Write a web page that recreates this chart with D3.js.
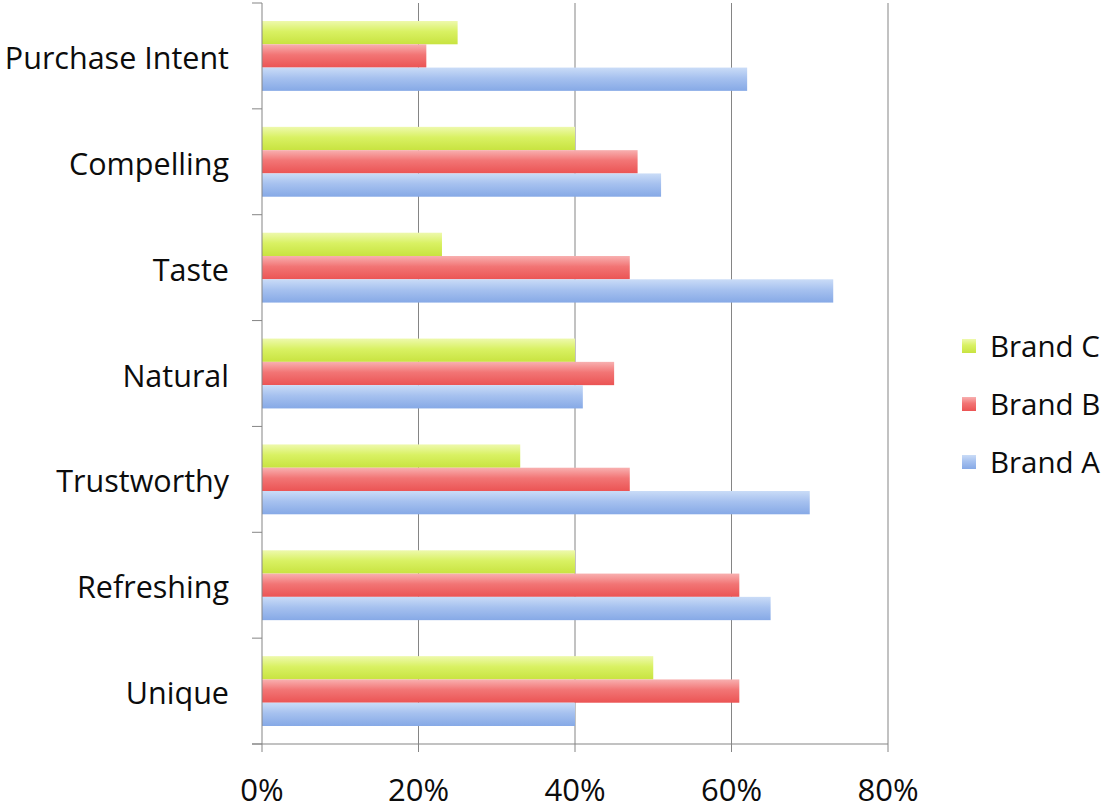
<!DOCTYPE html>
<html>
<head>
<meta charset="utf-8">
<script src="https://cdn.jsdelivr.net/npm/d3@7"></script>
<style>
  html, body { margin: 0; padding: 0; background: #fff; }
  svg { display: block; }
  text { font-family: "Open Sans", Lato, sans-serif; fill: #0c0c0c; }
</style>
</head>
<body>
<svg id="chart" width="1106" height="809"></svg>
<script>
// Attribute ratings per brand (share of respondents)
const categories = ["Purchase Intent", "Compelling", "Taste", "Natural", "Trustworthy", "Refreshing", "Unique"];
const seriesNames = ["Brand C", "Brand B", "Brand A"];
const brandC = [0.25, 0.40, 0.23, 0.40, 0.33, 0.40, 0.50];
const brandB = [0.21, 0.48, 0.47, 0.45, 0.47, 0.61, 0.61];
const brandA = [0.62, 0.51, 0.73, 0.41, 0.70, 0.65, 0.40];
const xTicks = [0, 0.2, 0.4, 0.6, 0.8];
const xTickLabels = ["0%", "20%", "40%", "60%", "80%"];

const seriesValues = { "Brand C": brandC, "Brand B": brandB, "Brand A": brandA };
const gradients = {
  "Brand C": ["#eef9ad", "#d9f163", "#c8e340"],
  "Brand B": ["#f8b0b0", "#f27575", "#eb5454"],
  "Brand A": ["#cadcf7", "#a6c1ef", "#86a9e6"]
};

const svg = d3.select("#chart");
const plotTop = 3, plotBottom = 744, plotLeft = 262, plotRight = 888;

const x = d3.scaleLinear().domain([0, 0.8]).range([plotLeft, plotRight]);
const y0 = d3.scaleBand().domain(categories).range([plotTop, plotBottom]).paddingInner(0.34).paddingOuter(0.17);
const y1 = d3.scaleBand().domain(seriesNames).range([0, y0.bandwidth()]);

// Bar fill gradients
const defs = svg.append("defs");
seriesNames.forEach((s, i) => {
  const g = defs.append("linearGradient").attr("id", "grad" + i)
    .attr("x1", 0).attr("y1", 0).attr("x2", 0).attr("y2", 1);
  const c = gradients[s];
  g.append("stop").attr("offset", "0%").attr("stop-color", c[0]);
  g.append("stop").attr("offset", "45%").attr("stop-color", c[1]);
  g.append("stop").attr("offset", "100%").attr("stop-color", c[2]);
});

// Vertical gridlines (with short ticks below the baseline)
svg.append("g").selectAll("line").data(xTicks.slice(1)).join("line")
  .attr("x1", d => x(d)).attr("x2", d => x(d))
  .attr("y1", plotTop).attr("y2", plotBottom + 8)
  .attr("stroke", "#858585").attr("stroke-width", 1);

// Bars
const groups = svg.append("g").selectAll("g").data(categories).join("g")
  .attr("transform", d => `translate(0,${y0(d)})`);
groups.selectAll("rect")
  .data((c, ci) => seriesNames.map((s, si) => ({ s, si, v: seriesValues[s][ci] })))
  .join("rect")
  .attr("x", x(0))
  .attr("y", d => y1(d.s))
  .attr("width", d => x(d.v) - x(0))
  .attr("height", y1.bandwidth())
  .attr("fill", d => `url(#grad${d.si})`);

// Category axis line and boundary ticks
svg.append("line").attr("x1", plotLeft).attr("x2", plotLeft).attr("y1", plotTop).attr("y2", plotBottom + 8)
  .attr("stroke", "#858585");
svg.append("line").attr("x1", plotLeft - 10).attr("x2", plotRight).attr("y1", plotBottom).attr("y2", plotBottom)
  .attr("stroke", "#858585");
const boundaries = d3.range(categories.length + 1).map(i => plotTop + i * y0.step());
svg.append("g").selectAll("line").data(boundaries).join("line")
  .attr("x1", plotLeft - 10).attr("x2", plotLeft)
  .attr("y1", d => d).attr("y2", d => d)
  .attr("stroke", "#858585");

// Category labels
svg.append("g").selectAll("text").data(categories).join("text")
  .attr("x", 229)
  .attr("y", d => y0(d) + y0.bandwidth() / 2 + 13)
  .attr("text-anchor", "end")
  .attr("font-size", 30.5)
  .text(d => d);

// Value axis labels
svg.append("g").selectAll("text").data(xTicks).join("text")
  .attr("x", d => x(d))
  .attr("y", 801)
  .attr("text-anchor", "middle")
  .attr("font-size", 31)
  .text((d, i) => xTickLabels[i]);

// Legend
const legend = svg.append("g").selectAll("g").data(seriesNames).join("g")
  .attr("transform", (d, i) => `translate(962,${346 + i * 58})`);
legend.append("rect").attr("x", 0).attr("y", -7).attr("width", 14).attr("height", 14)
  .attr("fill", (d, i) => `url(#grad${i})`);
legend.append("text").attr("x", 28).attr("y", 11).attr("font-size", 29.5).text(d => d);
</script>
</body>
</html>
